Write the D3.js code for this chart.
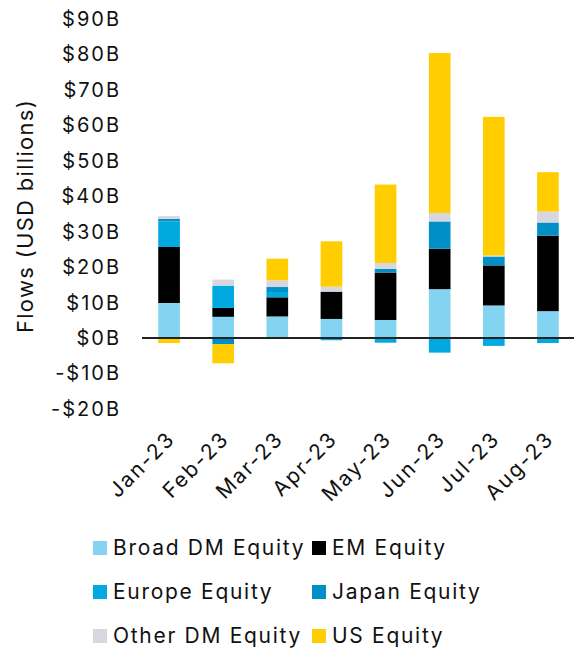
<!DOCTYPE html>
<html>
<head>
<meta charset="utf-8">
<script src="https://cdn.jsdelivr.net/npm/d3@7"></script>
<style>
  body { margin: 0; background: #fff; }
  text { font-family: Inter, "Open Sans", sans-serif; fill: #111; }
</style>
</head>
<body>
<svg id="chart" width="574" height="650"></svg>
<script>
// months on the x axis
const months = ["Jan-23", "Feb-23", "Mar-23", "Apr-23", "May-23", "Jun-23", "Jul-23", "Aug-23"];
// series, in stacking order (USD billions)
const seriesNames = ["Broad DM Equity", "EM Equity", "Europe Equity", "Japan Equity", "Other DM Equity", "US Equity"];
const broadDM = [9.9, 6.0, 6.1, 5.4, 5.1, 13.8, 9.2, 7.6];
const emEq    = [15.8, 2.5, 5.4, 7.7, 13.4, 11.4, 11.3, 21.3];
const europe  = [7.2, 6.3, 1.5, -0.6, -1.3, -4.1, -2.2, -1.4];
const japan   = [0.7, -1.7, 1.4, 0, 1.0, 7.7, 2.5, 3.7];
const otherDM = [0.8, 1.7, 1.9, 1.4, 1.7, 2.4, 0.3, 3.1];
const usEq    = [-1.4, -5.4, 6.1, 12.8, 22.1, 45.1, 39.1, 11.1];
const yTicks = [-20, -10, 0, 10, 20, 30, 40, 50, 60, 70, 80, 90];
const colors = ["#82d4f0", "#000000", "#00a9e0", "#008fc7", "#d8d7e0", "#ffcd00"];

const svg = d3.select("#chart");
const allSeries = [broadDM, emEq, europe, japan, otherDM, usEq];

// table for d3.stack
const rows = months.map((m, i) => {
  const r = { month: m };
  seriesNames.forEach((s, k) => { r[s] = allSeries[k][i]; });
  return r;
});

const x = d3.scaleBand()
  .domain(months)
  .range([142, 575])
  .paddingInner(0.6)
  .paddingOuter(0.3);

const y = d3.scaleLinear()
  .domain([-20, 90])
  .range([409, 19]);

const stacked = d3.stack()
  .keys(seriesNames)
  .offset(d3.stackOffsetDiverging)(rows);

// bars
svg.append("g")
  .selectAll("g")
  .data(stacked)
  .join("g")
    .attr("fill", (d, i) => colors[i])
  .selectAll("rect")
  .data(d => d)
  .join("rect")
    .attr("x", d => x(d.data.month))
    .attr("y", d => y(Math.max(d[0], d[1])))
    .attr("height", d => Math.abs(y(d[0]) - y(d[1])))
    .attr("width", x.bandwidth());

// zero line
svg.append("line")
  .attr("x1", 142).attr("x2", 574)
  .attr("y1", y(0)).attr("y2", y(0))
  .attr("stroke", "#222")
  .attr("stroke-width", 2);

// y axis
const yAxis = svg.append("g")
  .attr("transform", "translate(121,0)")
  .call(d3.axisLeft(y).tickValues(yTicks).tickSize(0).tickPadding(0)
    .tickFormat(d => (d < 0 ? "-$" : "$") + Math.abs(d) + "B"));
yAxis.select(".domain").remove();
yAxis.selectAll("text")
  .style("font-size", "20px")
  .style("letter-spacing", "2px")
  .attr("fill", "#111");

// y axis title
svg.append("text")
  .attr("transform", "translate(33,216) rotate(-90)")
  .attr("text-anchor", "middle")
  .style("font-size", "22px")
  .style("letter-spacing", "1.3px")
  .text("Flows (USD billions)");

// x axis labels
const xAxis = svg.append("g")
  .attr("transform", "translate(0," + 425 + ")")
  .call(d3.axisBottom(x).tickSize(0).tickPadding(0));
xAxis.select(".domain").remove();
xAxis.selectAll("text")
  .style("font-size", "21px")
  .style("letter-spacing", "2px")
  .attr("fill", "#111")
  .attr("text-anchor", "end")
  .attr("dy", "0.35em")
  .attr("transform", "translate(2,10) rotate(-45)");

// legend
const legend = svg.append("g");
seriesNames.forEach((s, i) => {
  const col = i % 2, row = Math.floor(i / 2);
  const gx = col === 0 ? 93 : 312;
  const gy = 548 + row * 44;
  legend.append("rect")
    .attr("x", gx).attr("y", gy - 7)
    .attr("width", 14).attr("height", 14)
    .attr("fill", colors[i]);
  legend.append("text")
    .attr("x", gx + 20).attr("y", gy)
    .attr("dy", "0.35em")
    .style("font-size", "21px")
    .style("letter-spacing", "1.7px")
    .text(s);
});
</script>
</body>
</html>
